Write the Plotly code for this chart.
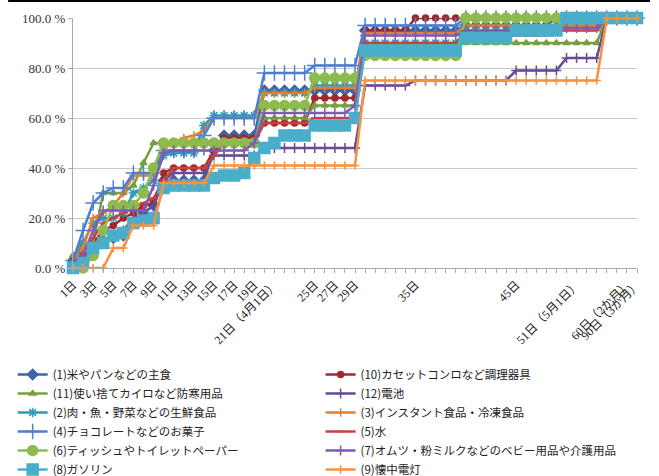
import plotly.graph_objects as go

# category positions (1..57) and their tick labels (blank = tick without label)
x_idx = list(range(1, 58))
tick_labels = [
    "1日", "", "3日", "", "5日", "", "7日", "", "9日", "",
    "11日", "", "13日", "", "15日", "", "17日", "", "19日", "",
    "21日（4月1日）", "", "", "", "25日", "", "27日", "", "29日", "",
    "", "", "", "", "35日", "", "", "", "", "",
    "", "", "", "", "45日", "", "", "", "", "",
    "51日（5月1日）", "", "", "", "", "60日（2か月）", "90日（3か月）",
]

names = [
    "(1)米やパンなどの主食",
    "(10)カセットコンロなど調理器具",
    "(11)使い捨てカイロなど防寒用品",
    "(12)電池",
    "(2)肉・魚・野菜などの生鮮食品",
    "(3)インスタント食品・冷凍食品",
    "(4)チョコレートなどのお菓子",
    "(5)水",
    "(6)ティッシュやトイレットペーパー",
    "(7)オムツ・粉ミルクなどのベビー用品や介護用品",
    "(8)ガソリン",
    "(9)懐中電灯",
]

s1 = [3, 5, 8, 11, 12, 13, 18, 22, 25, 35,
      35, 35, 35, 35, 47, 53, 53, 53, 53, 71,
      71, 71, 71, 71, 71, 71, 71, 71, 71, 95,
      95, 95, 95, 95, 95, 95, 95, 95, 95, 97,
      97, 97, 97, 97, 97, 97, 97, 97, 100, 100,
      100, 100, 100, 100, 100, 100, 100]
s10 = [3, 8, 10, 15, 17, 20, 22, 25, 26, 38,
       40, 40, 40, 40, 47, 52, 52, 52, 52, 58,
       58, 58, 58, 58, 68, 68, 68, 68, 68, 95,
       95, 95, 95, 95, 100, 100, 100, 100, 100, 100,
       100, 100, 100, 100, 100, 100, 100, 100, 100, 100,
       100, 100, 100, 100, 100, 100, 100]
s11 = [5, 10, 10, 30, 30, 30, 33, 42, 50, 50,
       50, 50, 50, 50, 50, 50, 50, 50, 50, 60,
       60, 60, 60, 60, 65, 65, 65, 65, 65, 90,
       90, 90, 90, 90, 90, 90, 90, 90, 90, 90,
       90, 90, 90, 90, 90, 90, 90, 90, 90, 90,
       90, 90, 90, 100, 100, 100, 100]
s12 = [0, 3, 8, 10, 12, 15, 20, 22, 25, 35,
       38, 38, 38, 38, 45, 45, 45, 45, 45, 48,
       48, 48, 48, 48, 48, 48, 48, 48, 48, 73,
       73, 73, 73, 73, 75, 75, 75, 75, 75, 75,
       75, 75, 75, 75, 79, 79, 79, 79, 79, 84,
       84, 84, 84, 100, 100, 100, 100]
s2 = [2, 10, 18, 20, 20, 22, 30, 32, 35, 45,
      46, 46, 46, 57, 61, 61, 61, 61, 61, 70,
      70, 70, 70, 70, 73, 73, 73, 73, 73, 90,
      90, 90, 90, 90, 90, 90, 90, 90, 90, 95,
      95, 95, 95, 95, 95, 95, 95, 95, 97, 97,
      97, 97, 97, 100, 100, 100, 100]
s3 = [2, 8, 20, 22, 25, 30, 37, 37, 37, 48,
      50, 52, 53, 55, 60, 60, 60, 60, 60, 70,
      70, 70, 70, 70, 72, 72, 72, 72, 72, 94,
      94, 94, 94, 94, 94, 94, 94, 94, 94, 97,
      97, 97, 97, 97, 97, 97, 97, 97, 97, 97,
      97, 97, 97, 100, 100, 100, 100]
s4 = [3, 15, 26, 30, 32, 32, 38, 38, 38, 47,
      47, 47, 47, 53, 60, 60, 60, 60, 60, 78,
      78, 78, 78, 78, 81, 81, 81, 81, 81, 97,
      97, 97, 97, 97, 97, 97, 97, 97, 97, 100,
      100, 100, 100, 100, 100, 100, 100, 100, 100, 100,
      100, 100, 100, 100, 100, 100, 100]
s5 = [2, 6, 12, 18, 20, 22, 24, 26, 28, 35,
      40, 40, 40, 40, 45, 50, 50, 50, 50, 58,
      58, 58, 58, 58, 60, 60, 60, 60, 60, 90,
      90, 90, 90, 90, 90, 90, 90, 90, 90, 93,
      93, 93, 93, 93, 93, 93, 93, 93, 95, 95,
      95, 95, 95, 100, 100, 100, 100]
s6 = [0, 0, 5, 15, 25, 25, 25, 30, 40, 50,
      50, 50, 50, 50, 50, 50, 50, 50, 50, 65,
      65, 65, 65, 65, 76, 76, 76, 76, 76, 85,
      85, 85, 85, 85, 85, 85, 85, 85, 85, 100,
      100, 100, 100, 100, 100, 100, 100, 100, 100, 100,
      100, 100, 100, 100, 100, 100, 100]
s7 = [2, 5, 15, 23, 23, 23, 23, 23, 33, 46,
      47, 47, 47, 47, 47, 47, 47, 47, 50, 62,
      62, 62, 62, 62, 62, 62, 62, 62, 65, 93,
      93, 93, 93, 93, 93, 93, 93, 93, 93, 95,
      95, 95, 95, 95, 95, 95, 95, 95, 96, 96,
      96, 96, 96, 100, 100, 100, 100]
s8 = [0, 2, 8, 10, 13, 14, 18, 19, 20, 32,
      33, 33, 33, 33, 36, 37, 37, 38, 44, 48,
      50, 53, 53, 53, 57, 57, 57, 57, 60, 87,
      87, 87, 87, 87, 87, 87, 87, 87, 87, 92,
      92, 92, 92, 92, 95, 95, 95, 95, 95, 100,
      100, 100, 100, 100, 100, 100, 100]
s9 = [0, 0, 0, 0, 8, 8, 17, 17, 17, 34,
      34, 34, 34, 34, 41, 41, 41, 41, 41, 41,
      41, 41, 41, 41, 41, 41, 41, 41, 41, 75,
      75, 75, 75, 75, 75, 75, 75, 75, 75, 75,
      75, 75, 75, 75, 75, 75, 75, 75, 75, 75,
      75, 75, 75, 100, 100, 100, 100]

series = [s1, s10, s11, s12, s2, s3, s4, s5, s6, s7, s8, s9]
colors = ["#3E64A8", "#A3282C", "#76A03D", "#654A96", "#2E9AB6", "#E47F2E",
          "#4C80CE", "#C8423E", "#8DBB4D", "#7D5DAE", "#4AAECB", "#F7923F"]
symbols = ["diamond", "circle", "triangle-up", "cross-thin-open", "asterisk-open",
           "cross-thin-open", "cross-thin-open", "line-ew-open", "circle",
           "cross-thin-open", "square", "cross-thin-open"]
msizes = [8, 6, 6, 7, 8, 6, 11, 6, 10, 7, 11, 6]

fig = go.Figure()
for k, (name, ys, c, sym, ms) in enumerate(zip(names, series, colors, symbols, msizes)):
    fig.add_trace(go.Scatter(
        x=x_idx, y=ys, name=name, mode="lines+markers",
        line=dict(color=c, width=2.5),
        marker=dict(symbol=sym, size=ms, color=c, line=dict(color=c, width=1.5)),
        cliponaxis=False,
        legend="legend" if k % 2 == 0 else "legend2",
    ))

serif = "Liberation Serif, Noto Sans CJK JP"
leg_common = dict(
    orientation="v", yanchor="top", xanchor="left", y=-0.368,
    font=dict(family="Noto Sans CJK JP", size=11.5, color="#222"),
    itemwidth=30, bgcolor="rgba(0,0,0,0)", tracegroupgap=0,
)
fig.update_layout(
    width=659, height=476,
    margin=dict(l=73, r=22, t=18, b=208, autoexpand=False),
    paper_bgcolor="white", plot_bgcolor="white",
    showlegend=True,
    legend=dict(x=-0.107, **leg_common),
    legend2=dict(x=0.439, **leg_common),
    xaxis=dict(
        range=[1, 57], tickmode="array", tickvals=x_idx, ticktext=tick_labels,
        tickangle=-45, ticks="outside", ticklen=4, tickcolor="#AAAAAA",
        showgrid=False, showline=True, linecolor="#AAAAAA", linewidth=1,
        tickfont=dict(family=serif, size=12, color="#222"), zeroline=False,
    ),
    yaxis=dict(
        range=[0, 100], tickmode="array", tickvals=[0, 20, 40, 60, 80, 100],
        ticktext=["0.0 %", "20.0 %", "40.0 %", "60.0 %", "80.0 %", "100.0 %"],
        showgrid=True, gridcolor="#C8C8C8", gridwidth=1,
        showline=True, linecolor="#AAAAAA", linewidth=1,
        ticks="outside", ticklen=4, tickcolor="#AAAAAA", zeroline=False,
        tickfont=dict(family=serif, size=13, color="#333"),
    ),
    shapes=[dict(type="line", xref="paper", yref="paper",
                 x0=-0.115, x1=1.023, y0=1.068, y1=1.068,
                 line=dict(color="black", width=2))],
)

fig.write_html("out.html")
